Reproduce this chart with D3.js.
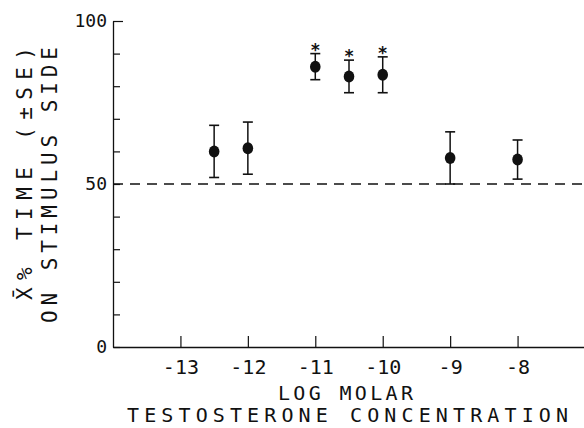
<!DOCTYPE html>
<html>
<head>
<meta charset="utf-8">
<script src="https://cdn.jsdelivr.net/npm/d3@7"></script>
<style>
  html, body { margin: 0; padding: 0; background: #fff; }
  svg { display: block; }
  text { font-family: "DejaVu Sans Mono", monospace; fill: #111; }
</style>
</head>
<body>
<script>
// ---- data ----
const logConcentration = [-12.5, -12, -11, -10.5, -10, -9, -8];
const meanPercentTime  = [60, 61, 86, 83, 83.5, 58, 57.5];
const standardError    = [8, 8, 4, 5, 5.5, 8, 6];
const significant      = [false, false, true, true, true, false, false];
const xTickValues      = [-13, -12, -11, -10, -9, -8];
const yTickValues      = [0, 10, 20, 30, 40, 50, 60, 70, 80, 90, 100];
const yLabelledTicks   = [0, 50, 100];
const chanceLevel      = 50;
const xTitle1 = "LOG MOLAR";
const xTitle2 = "TESTOSTERONE CONCENTRATION";
const yTitle1 = "X\u0304% TIME (\u00B1SE)";
const yTitle2 = "ON STIMULUS SIDE";

const W = 584, H = 428;
const svg = d3.select("body").append("svg").attr("width", W).attr("height", H);

const x = d3.scaleLinear().domain([-14, -7]).range([113, 585]);
const y = d3.scaleLinear().domain([0, 100]).range([347, 21]);
const ink = "#111";

// Y axis (ticks pointing inward)
const yAxis = d3.axisLeft(y)
  .tickValues(yTickValues)
  .tickSizeInner(-7).tickSizeOuter(0).tickPadding(6)
  .tickFormat(d => yLabelledTicks.includes(d) ? String(d) : "");
const gy = svg.append("g").attr("transform", `translate(${x(-14)},0)`).call(yAxis);
gy.select(".domain").attr("stroke", ink).attr("stroke-width", 1.3);
gy.selectAll(".tick line").attr("stroke", ink).attr("stroke-width", 1.2)
  .attr("x2", d => d === 100 ? 10 : 7);
gy.selectAll(".tick text").attr("font-size", 18).attr("fill", ink)
  .attr("font-family", "DejaVu Sans Mono");

// X axis (ticks pointing up)
const xAxis = d3.axisBottom(x)
  .tickValues(xTickValues)
  .tickSizeInner(-11).tickSizeOuter(0).tickPadding(13)
  .tickFormat(d => String(d));
const gx = svg.append("g").attr("transform", `translate(0,${y(0)})`).call(xAxis);
gx.select(".domain").attr("stroke", ink).attr("stroke-width", 1.3);
gx.selectAll(".tick line").attr("stroke", ink).attr("stroke-width", 1.2);
gx.selectAll(".tick text").attr("font-size", 20).attr("fill", ink)
  .attr("font-family", "DejaVu Sans Mono").attr("dy", "0.71em");

// chance line
svg.append("line")
  .attr("x1", x(-14)).attr("x2", x(-7))
  .attr("y1", y(chanceLevel)).attr("y2", y(chanceLevel))
  .attr("stroke", ink).attr("stroke-width", 1.4)
  .attr("stroke-dasharray", "10,7");

// error bars
const pts = logConcentration.map((c, i) => ({
  c, m: meanPercentTime[i], se: standardError[i], sig: significant[i]
}));
const eb = svg.append("g");
pts.forEach(p => {
  const cx = x(p.c);
  eb.append("line").attr("x1", cx).attr("x2", cx)
    .attr("y1", y(p.m + p.se)).attr("y2", y(p.m - p.se))
    .attr("stroke", ink).attr("stroke-width", 1.5);
  [p.m + p.se, p.m - p.se].forEach(v => {
    eb.append("line").attr("x1", cx - 5).attr("x2", cx + 5)
      .attr("y1", y(v)).attr("y2", y(v))
      .attr("stroke", ink).attr("stroke-width", 1.6);
  });
});

// points
svg.append("g").selectAll("ellipse").data(pts).join("ellipse")
  .attr("cx", d => x(d.c)).attr("cy", d => y(d.m))
  .attr("rx", 5.3).attr("ry", 6).attr("fill", ink);

// asterisks
svg.append("g").selectAll("text").data(pts.filter(d => d.sig)).join("text")
  .attr("x", d => x(d.c)).attr("y", d => y(d.m + d.se) - 7 + 9)
  .attr("text-anchor", "middle").attr("font-size", 17).attr("font-weight", "bold")
  .attr("font-family", "DejaVu Sans")
  .text("*");

// x titles
svg.append("text").attr("x", 278).attr("y", 400)
  .attr("font-size", 20).attr("textLength", 135).attr("lengthAdjust", "spacing")
  .text(xTitle1);
svg.append("text").attr("x", 127).attr("y", 422)
  .attr("font-size", 20).attr("textLength", 441).attr("lengthAdjust", "spacing")
  .text(xTitle2);

// y titles (rotated)
svg.append("text").attr("transform", "translate(32,300) rotate(-90)")
  .attr("font-size", 21).attr("textLength", 253).attr("lengthAdjust", "spacing")
  .text(yTitle1);
svg.append("text").attr("transform", "translate(57,323) rotate(-90)")
  .attr("font-size", 21).attr("textLength", 276).attr("lengthAdjust", "spacing")
  .text(yTitle2);
</script>
</body>
</html>
